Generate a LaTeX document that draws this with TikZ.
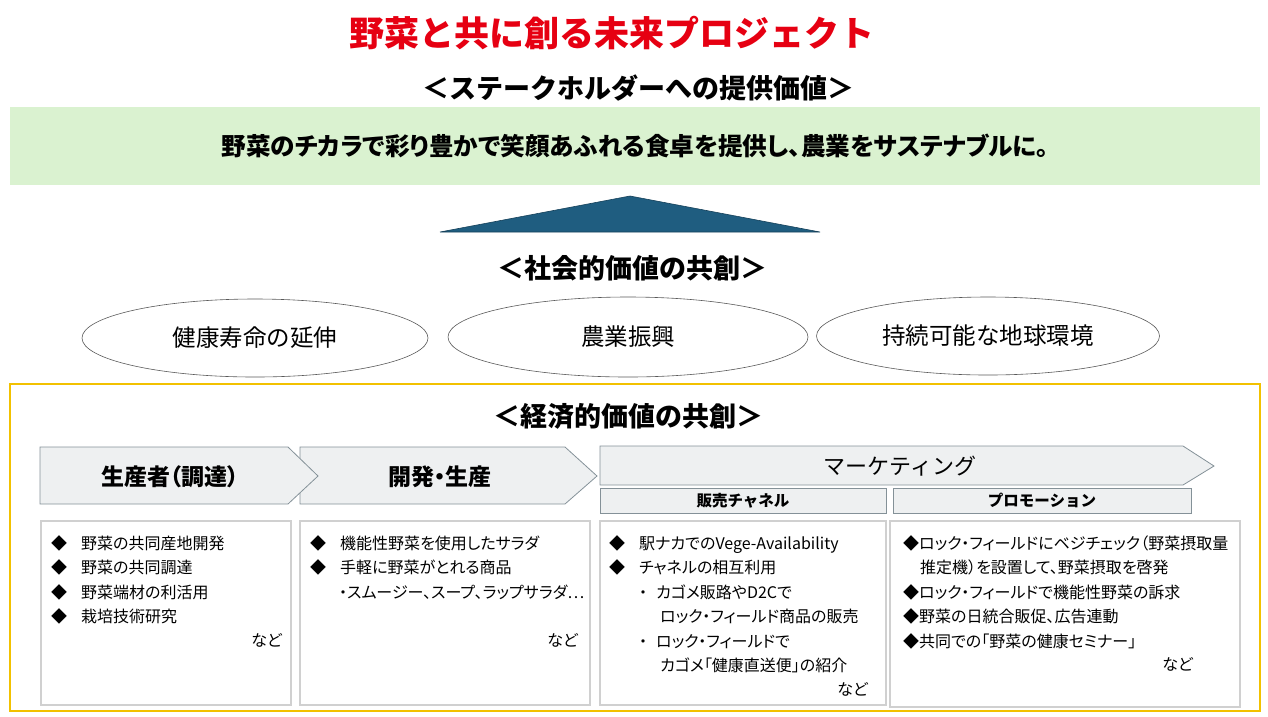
\documentclass[tikz,border=0pt]{standalone}
\usepackage{fontspec}
\setmainfont{Noto Sans CJK JP}
\newfontfamily\listfont{Noto Sans CJK JP}[RawFeature=+palt]
\usepackage{xcolor}
\usetikzlibrary{shapes.geometric}

\definecolor{titlered}{RGB}{230,0,18}
\definecolor{bandgreen}{RGB}{218,242,208}
\definecolor{roofblue}{RGB}{31,93,128}
\definecolor{framegold}{RGB}{242,193,0}
\definecolor{chevfill}{RGB}{238,240,241}
\definecolor{chevline}{RGB}{132,145,152}
\definecolor{cardline}{RGB}{208,208,208}

\newcommand{\fsz}[1]{\fontsize{#1}{#1}\selectfont}
\newcommand{\bul}{\makebox[30pt][l]{◆}}

\begin{document}
\begin{tikzpicture}[
  x=1pt,y=-1pt,
  head/.style={font=\fsz{27}\bfseries},
  oval/.style={draw=black!65,line width=0.6pt,ellipse,inner sep=0,font=\fsz{23.5}},
  chev/.style={draw=chevline,fill=chevfill,line width=0.8pt},
  sub/.style={draw=chevline,fill=chevfill,line width=0.8pt,inner sep=0,minimum height=25pt,font=\fsz{15.5}\bfseries},
  card/.style={draw=cardline,line width=1.8pt,fill=white,inner sep=0},
  list/.style={anchor=north west,align=left,inner sep=0,font=\listfont\fontsize{16}{24.5}\selectfont},
  etc/.style={anchor=east,inner sep=0,font=\listfont\fsz{16}}]
  \useasboundingbox (0,0) rectangle (1268,716);
  % headings
  \node[font=\fsz{35}\bfseries,text=titlered] (title) at (612,33) {野菜と共に創る未来プロジェクト};
  \node[head] (stake) at (638,88) {＜ステークホルダーへの提供価値＞};
  \node[fill=bandgreen,minimum width=1250pt,minimum height=78pt,inner sep=0,
        font=\listfont\fsz{24.6}\bfseries] (band) at (635,146)
    {野菜のチカラで彩り豊かで笑顔あふれる食卓を提供し、農業をサステナブルに。};
  % roof
  \coordinate (roofL) at (440,232);
  \coordinate (roofT) at (630,196);
  \coordinate (roofR) at (820,232);
  \draw[fill=roofblue,draw=roofblue!70!black,line width=0.6pt] (roofL) -- (roofT) -- (roofR) -- cycle;
  % social value
  \node[head] (social) at (632,268) {＜社会的価値の共創＞};
  \node[oval,minimum width=346pt,minimum height=78pt] (health) at (255,338) {健康寿命の延伸};
  \node[oval,minimum width=360pt,minimum height=80pt] (farm) at (628,337) {農業振興};
  \node[oval,minimum width=343pt,minimum height=78pt] (earth) at (988,336) {持続可能な地球環境};
  % economic value
  \draw[framegold,line width=2pt] (10,384) rectangle (1260,711);
  \node[head] (econ) at (628,416) {＜経済的価値の共創＞};
  \draw[chev] (300,447) -- (565,447) -- (597,476) -- (565,504) -- (300,504) -- cycle;
  \draw[chev] (40,447) -- (288,447) -- (318,476) -- (288,504) -- (40,504) -- cycle;
  \draw[chev] (600,446) -- (1183,446) -- (1214,466) -- (1183,485) -- (600,485) -- cycle;
  \node[font=\listfont\fsz{23}\bfseries] (grow) at (170,477) {生産者（調達）};
  \node[font=\listfont\fsz{23}\bfseries] (make) at (440,477) {開発・生産};
  \node[font=\fsz{22}] (mkt) at (900,466) {マーケティング};
  \node[sub,minimum width=286pt] (sales) at (743,500.5) {販売チャネル};
  \node[sub,minimum width=298pt] (promo) at (1042,500.5) {プロモーション};
  % cards
  \node[card,minimum width=250pt,minimum height=184pt] (cardA) at (166,613) {};
  \node[card,minimum width=290pt,minimum height=184pt] (cardB) at (445,613) {};
  \node[card,minimum width=286pt,minimum height=184pt] (cardC) at (743,613) {};
  \node[card,minimum width=350pt,minimum height=186pt] (cardD) at (1065,614) {};
  \node[list] (listA) at (51,535)
    {\bul 野菜の共同産地開発\\\bul 野菜の共同調達\\\bul 野菜端材の利活用\\\bul 栽培技術研究};
  \node[etc] (etcA) at (282,640) {など};
  \node[list] (listB) at (310,535)
    {\bul 機能性野菜を使用したサラダ\\\bul 手軽に野菜がとれる商品\\\hspace*{29pt}・スムージー、スープ、ラップサラダ…};
  \node[etc] (etcB) at (578,640) {など};
  \node[list] (listC) at (609,535)
    {\bul 駅ナカでのVege-Availability\\\bul チャネルの相互利用\\
     \hspace*{30pt}・\hspace{9pt}カゴメ販路やD2Cで\\\hspace*{51pt}ロック・フィールド商品の販売\\
     \hspace*{30pt}・\hspace{9pt}ロック・フィールドで\\\hspace*{51pt}カゴメ「健康直送便」の紹介};
  \node[etc] (etcC) at (868,689) {など};
  \node[list] (listD) at (903,535)
    {◆ロック・フィールドにベジチェック（野菜摂取量\\\hspace*{17pt}推定機）を設置して、野菜摂取を啓発\\
     ◆ロック・フィールドで機能性野菜の訴求\\◆野菜の日統合販促、広告連動\\◆共同での「野菜の健康セミナー」};
  \node[etc] (etcD) at (1193,664) {など};
\end{tikzpicture}
\end{document}
